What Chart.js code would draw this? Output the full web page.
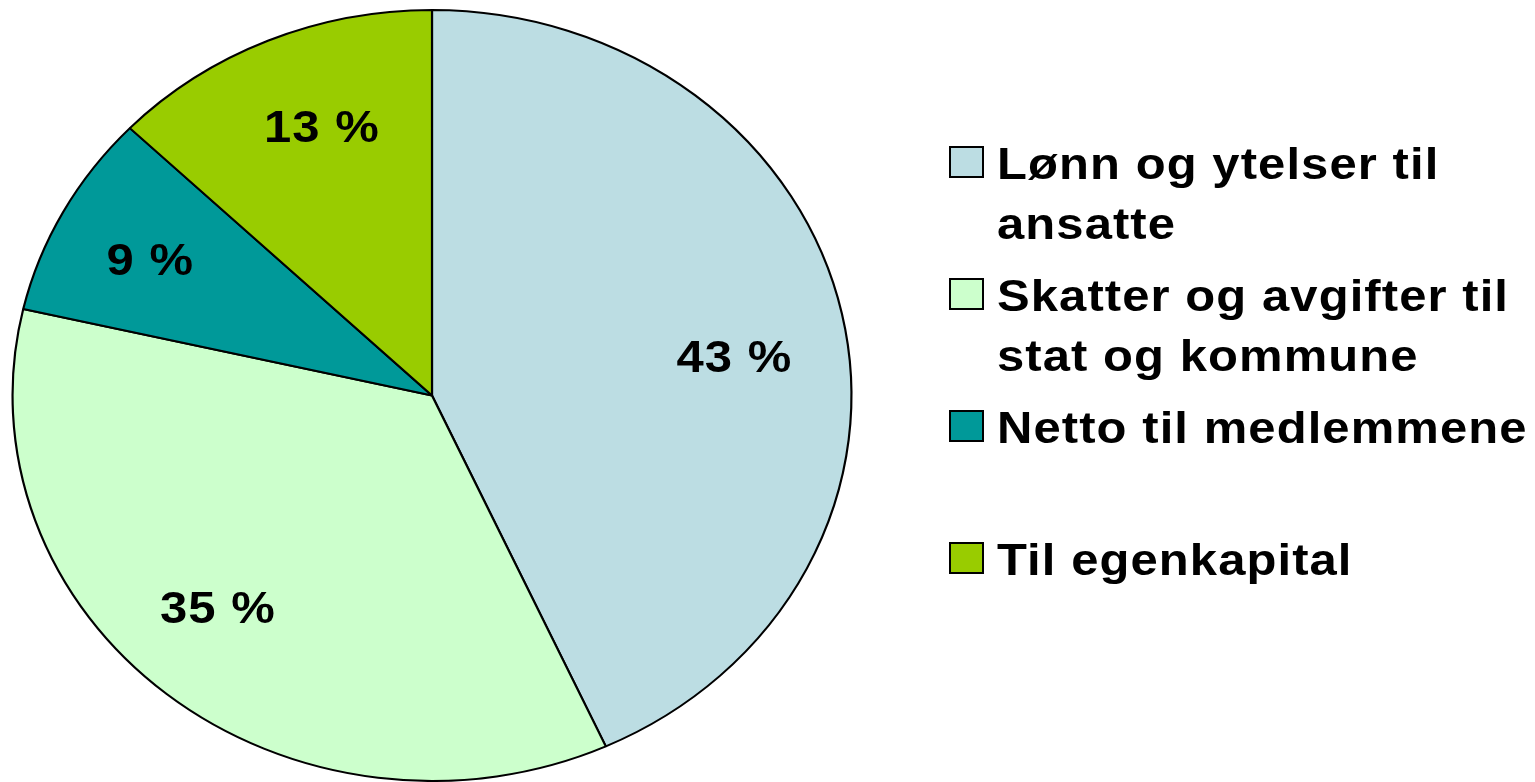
<!DOCTYPE html>
<html>
<head>
<meta charset="utf-8">
<script src="https://cdn.jsdelivr.net/npm/chart.js@4/dist/chart.umd.min.js"></script>
<style>
  html, body { margin: 0; padding: 0; background: #fff; }
  #wrap { width: 1535px; height: 782px; position: relative; }
</style>
</head>
<body>
<div id="wrap"><canvas id="pieChart"></canvas></div>
<script>
// Data
const categories = ['Lønn og ytelser til ansatte', 'Skatter og avgifter til stat og kommune', 'Netto til medlemmene', 'Til egenkapital'];
const legendLines = [['Lønn og ytelser til', 'ansatte'], ['Skatter og avgifter til', 'stat og kommune'], ['Netto til medlemmene'], ['Til egenkapital']];
// slice sizes; the labels show them rounded
const shares = [43.2, 35.4, 8.6, 12.8];
const sliceColors = ['#BCDDE3', '#CCFFCC', '#009999', '#99CC00'];

const FONT = 'bold 45px "Liberation Sans", Arial, sans-serif';
const stretchX = 420 / 386; // the whole original is a bit wider than tall

// draw text stretched like the original
const wideText = (ctx, text, x, y, align) => {
  ctx.save();
  ctx.translate(x, y);
  ctx.scale(stretchX, 1);
  ctx.font = FONT;
  ctx.letterSpacing = '1px';
  ctx.textAlign = align;
  ctx.fillText(text, 0, 0);
  ctx.restore();
};

// stretch the pie horizontally
const ellipsePlugin = {
  id: 'ellipse',
  beforeDatasetsDraw(chart) {
    const arc = chart.getDatasetMeta(0).data[0];
    const ctx = chart.ctx;
    ctx.save();
    ctx.translate(arc.x, arc.y);
    ctx.scale(stretchX, 1);
    ctx.translate(-arc.x, -arc.y);
  },
  afterDatasetsDraw(chart) {
    chart.ctx.restore();
  }
};

// percent labels in the slices (small nudges to sit where the original puts them)
const labelNudge = [[-5, 25], [-15, -9], [-5, 5], [13, 0]];
const sliceLabels = {
  id: 'sliceLabels',
  afterDatasetsDraw(chart) {
    const ctx = chart.ctx;
    const meta = chart.getDatasetMeta(0);
    ctx.save();
    ctx.fillStyle = '#000';
    ctx.textBaseline = 'middle';
    meta.data.forEach((arc, i) => {
      const mid = (arc.startAngle + arc.endAngle) / 2;
      const r = arc.outerRadius * 0.75;
      const x = arc.x + Math.cos(mid) * r * stretchX + labelNudge[i][0];
      const y = arc.y + Math.sin(mid) * r + labelNudge[i][1];
      wideText(ctx, Math.round(shares[i]) + ' %', x, y, 'center');
    });
    ctx.restore();
  }
};

// legend on the right, wrapped like the original
const sideLegend = {
  id: 'sideLegend',
  afterDraw(chart) {
    const ctx = chart.ctx;
    const rowTops = [147, 279, 411, 543];
    ctx.save();
    ctx.textBaseline = 'alphabetic';
    legendLines.forEach((lines, i) => {
      const top = rowTops[i];
      ctx.fillStyle = sliceColors[i];
      ctx.fillRect(950, top, 33, 30);
      ctx.strokeStyle = '#000';
      ctx.lineWidth = 2;
      ctx.strokeRect(950, top, 33, 30);
      ctx.fillStyle = '#000';
      lines.forEach((t, j) => {
        wideText(ctx, t, 997, top + 32 + j * 60, 'left');
      });
    });
    ctx.restore();
  }
};

const pieChart = document.getElementById('pieChart');
const chart = new Chart(pieChart, {
  type: 'pie',
  data: {
    labels: categories,
    datasets: [
      {
        data: shares,
        backgroundColor: sliceColors,
        borderColor: '#000',
        borderWidth: 2
      }
    ]
  },
  options: {
    responsive: true,
    maintainAspectRatio: false,
    animation: false,
    layout: { padding: { left: 45, top: 9, right: 716, bottom: 0 } },
    plugins: {
      legend: { display: false },
      tooltip: { enabled: false }
    }
  },
  plugins: [ellipsePlugin, sliceLabels, sideLegend]
});
</script>
</body>
</html>
